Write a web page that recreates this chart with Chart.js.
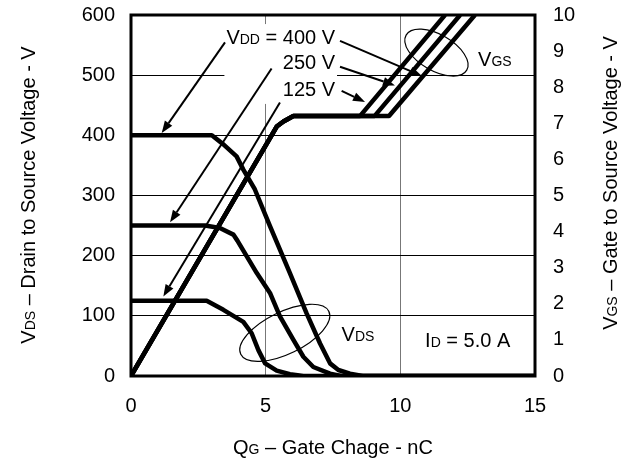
<!DOCTYPE html>
<html><head><meta charset="utf-8">
<script src="https://cdn.jsdelivr.net/npm/chart.js@4.4.0/dist/chart.umd.min.js"></script>
<style>html,body{margin:0;padding:0;background:#fff;}canvas{display:block}</style>
</head><body>
<canvas id="c" width="627" height="462"></canvas>
<script>
// ---- data ----
const xTickStep = 5;            // Gate charge ticks 0,5,10,15 nC
const vdsTickStep = 100;        // left axis 0..600 V
const vgsTickStep = 1;          // right axis 0..10 V

// VDS curves (left axis)
const vds400Q = [0, 3.0, 3.43, 3.92, 4.17, 4.6, 5.16, 5.9, 6.52, 7.02, 7.39, 7.7, 8.13, 8.6, 15];
const vds400V = [400, 400, 385, 365, 343, 310, 249, 171, 104, 54, 21, 10, 4, 0, 0];
const vds250Q = [0, 2.75, 3.3, 3.8, 3.95, 4.67, 5.16, 5.53, 6.03, 6.4, 6.77, 7.39, 7.8, 15];
const vds250V = [250, 250, 246, 235, 225, 171, 138, 99, 60, 32, 15, 4, 0, 0];
const vds125Q = [0, 2.81, 3.43, 4.17, 4.48, 4.73, 4.98, 5.41, 5.9, 6.4, 15];
const vds125V = [125, 125, 110, 90, 71, 43, 21, 9, 3, 0, 0];

// VGS curves (right axis)
const vgs125Q = [0, 5.41, 5.66, 6.03, 8.50, 11.66];
const vgs250Q = [0, 5.41, 5.66, 6.03, 9.04, 12.22];
const vgs400Q = [0, 5.41, 5.66, 6.03, 9.58, 12.77];
const vgsV    = [0, 6.91, 7.05, 7.20, 7.20, 10.0];

// annotation anchors in data units (nC, V on left axis)
const arrowFrom = [[3.49,554.5],[5.22,511],[5.53,454.5],[7.76,557],[7.76,514],[7.82,474]];
const arrowTo   = [[1.14,404],[1.45,255.5],[1.2,132],[10.79,499],[9.80,483],[8.69,455.5]];
const vddLabels = [[['V',0],['DD',1],[' = 400 V',0]], [['250 V',0]], [['125 V',0]]];
const vddLabelX = 7.575;
const vddLabelY = [551.7, 510, 465.5];
const ellipseCenters = [[11.34, 537.5], [5.71, 71.7]];
const sideLabels = [
  {parts:[['V',0],['GS',1]], x:12.885, y:515},
  {parts:[['V',0],['DS',1]], x:7.82, y:58.3},
  {parts:[['I',0],['D',1],[' = 5.0 A',0]], x:10.92, y:48.3}
];
const xTitle = [['Q',0],['G',1],[' \u2013 Gate Chage - nC',0]];
const yTitle = [['V',0],['DS',1],[' \u2013 Drain to Source Voltage - V',0]];
const y2Title = [['V',0],['GS',1],[' \u2013 Gate to Source Voltage - V',0]];

const FAM = '"Liberation Sans", Arial, Helvetica, sans-serif';
const MAIN = '20px ' + FAM, SUB = '14px ' + FAM;

function pts(xs, ys){ return xs.map((x,i)=>({x:x, y:ys[i]})); }
function mk(xs, ys, axis, w){
  return {data: pts(xs, ys), yAxisID: axis, borderColor:'#000', borderWidth:w,
          pointRadius:0, tension:0, fill:false, borderJoinStyle:'round', borderCapStyle:'butt'};
}

function richWidth(ctx, parts){
  let w=0; for(const [t,s] of parts){ ctx.font = s?SUB:MAIN; w += ctx.measureText(t).width; } return w;
}
function rich(ctx, parts, x, y, align){
  const w = richWidth(ctx, parts);
  let sx = align==='right' ? x-w : (align==='center' ? x-w/2 : x);
  ctx.textBaseline='alphabetic'; ctx.textAlign='left'; ctx.fillStyle='#000';
  for(const [t,s] of parts){ ctx.font = s?SUB:MAIN; ctx.fillText(t, sx, y); sx += ctx.measureText(t).width; }
  return w;
}
function noPad(s){ s.paddingTop=0; s.paddingBottom=0; s.paddingLeft=0; s.paddingRight=0; }

const deco = {
  id:'deco',
  beforeDatasetsDraw(chart){
    const ctx=chart.ctx, xs=chart.scales.x, ys=chart.scales.y;
    const rx = xs.getPixelForValue(vddLabelX);
    const w = richWidth(ctx, vddLabels[0]);
    const t = ys.getPixelForValue(vddLabelY[0]) - 20;
    const b = ys.getPixelForValue(vddLabelY[2]) + 8;
    ctx.save(); ctx.fillStyle='#fff'; ctx.fillRect(rx-w-2, t, w+4, b-t); ctx.restore();
  },
  afterDatasetsDraw(chart){
    const ctx=chart.ctx, xs=chart.scales.x, ys=chart.scales.y, a=chart.chartArea;
    ctx.save();
    // frame
    ctx.strokeStyle='#000'; ctx.lineWidth=3;
    ctx.strokeRect(a.left, a.top, a.right-a.left, a.bottom-a.top);
    // arrows
    ctx.lineWidth=2; ctx.fillStyle='#000';
    for(let i=0;i<arrowFrom.length;i++){
      const x1=xs.getPixelForValue(arrowFrom[i][0]), y1=ys.getPixelForValue(arrowFrom[i][1]);
      const x2=xs.getPixelForValue(arrowTo[i][0]), y2=ys.getPixelForValue(arrowTo[i][1]);
      const ang=Math.atan2(y2-y1, x2-x1), L=12, H=4.5;
      const bx=x2-L*Math.cos(ang), by=y2-L*Math.sin(ang);
      ctx.beginPath(); ctx.moveTo(x1,y1); ctx.lineTo(bx,by); ctx.stroke();
      ctx.beginPath(); ctx.moveTo(x2,y2);
      ctx.lineTo(bx+H*Math.sin(ang), by-H*Math.cos(ang));
      ctx.lineTo(bx-H*Math.sin(ang), by+H*Math.cos(ang));
      ctx.closePath(); ctx.fill();
    }
    // ellipses
    ctx.lineWidth=1.2;
    const eSize=[[35,18,30],[49,21,-26]];
    for(let i=0;i<ellipseCenters.length;i++){
      const cx=xs.getPixelForValue(ellipseCenters[i][0]), cy=ys.getPixelForValue(ellipseCenters[i][1]);
      ctx.beginPath(); ctx.ellipse(cx,cy,eSize[i][0],eSize[i][1],eSize[i][2]*Math.PI/180,0,Math.PI*2); ctx.stroke();
    }
    // labels
    const rx = xs.getPixelForValue(vddLabelX);
    vddLabels.forEach((p,i)=>rich(ctx, p, rx, ys.getPixelForValue(vddLabelY[i]), 'right'));
    sideLabels.forEach(l=>rich(ctx, l.parts, xs.getPixelForValue(l.x), ys.getPixelForValue(l.y), 'left'));
    // axis titles
    rich(ctx, xTitle, (a.left+a.right)/2, 454, 'center');
    ctx.save(); ctx.translate(35, 195); ctx.rotate(-Math.PI/2); rich(ctx, yTitle, 0, 0, 'center'); ctx.restore();
    ctx.save(); ctx.translate(617, 183); ctx.rotate(-Math.PI/2); rich(ctx, y2Title, 0, 0, 'center'); ctx.restore();
    ctx.restore();
  }
};

new Chart(document.getElementById('c'), {
  type:'line',
  data:{datasets:[
    mk(vds400Q, vds400V, 'y', 4.5), mk(vds250Q, vds250V, 'y', 4.5), mk(vds125Q, vds125V, 'y', 4.5),
    mk(vgs125Q, vgsV, 'y2', 4.5), mk(vgs250Q, vgsV, 'y2', 4.5), mk(vgs400Q, vgsV, 'y2', 4.5)
  ]},
  options:{
    responsive:false, animation:false, devicePixelRatio:1,
    layout:{padding:{top:15,left:0,right:0,bottom:0}},
    plugins:{legend:{display:false}, tooltip:{enabled:false}},
    scales:{
      x:{type:'linear', min:0, max:15,
         ticks:{stepSize:xTickStep, color:'#000', font:{family:FAM, size:20}, padding:18, maxRotation:0},
         grid:{drawTicks:false, color:(c)=> (c.tick && (c.tick.value===5||c.tick.value===10)) ? '#777' : 'rgba(0,0,0,0)', lineWidth:1},
         border:{display:false},
         afterFit:(s)=>{ s.height = 86; noPad(s); }},
      y:{position:'left', min:0, max:600,
         ticks:{stepSize:vdsTickStep, color:'#000', font:{family:FAM, size:20}, padding:16},
         grid:{drawTicks:false, color:'#000', lineWidth:1},
         border:{display:false},
         afterFit:(s)=>{ s.width = 131; noPad(s); }},
      y2:{position:'right', min:0, max:10,
         ticks:{stepSize:vgsTickStep, color:'#000', font:{family:FAM, size:20}, padding:18},
         grid:{display:false, drawTicks:false},
         border:{display:false},
         afterFit:(s)=>{ s.width = 92; noPad(s); }}
    }
  },
  plugins:[deco]
});
</script>
</body></html>
